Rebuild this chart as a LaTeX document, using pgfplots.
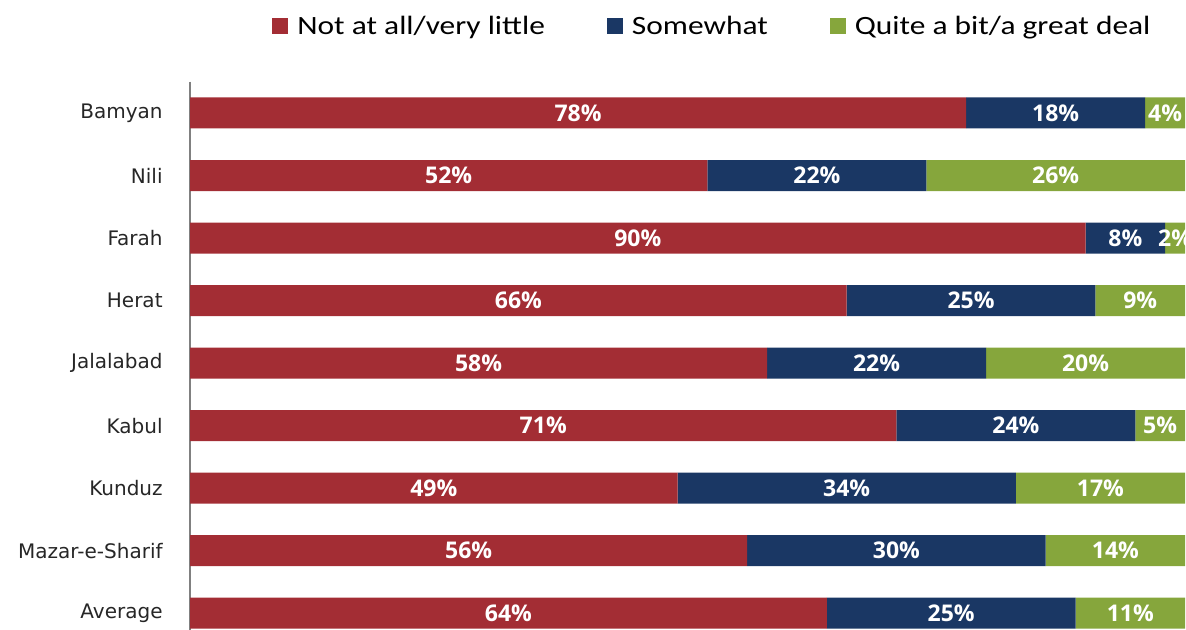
\documentclass[border=0pt]{standalone}
\usepackage{fontspec}
\usepackage{pgfplots}
\pgfplotsset{compat=1.18}
\setmainfont{DejaVu Sans}
\newfontfamily\legfont{Carlito}[FakeStretch=1.19]
\newfontfamily\barfont{Open Sans}
\definecolor{cred}{RGB}{163,45,52}
\definecolor{cnavy}{RGB}{26,55,100}
\definecolor{cgreen}{RGB}{134,166,60}
\begin{document}
\begin{tikzpicture}
\begin{axis}[
  at={(95pt,0pt)}, anchor=south west,
  scale only axis, width=497.5pt, height=274.125pt,
  xmin=0, xmax=100, ymin=-0.5, ymax=8.27, y dir=reverse,
  xbar stacked, bar width=15.5pt,
  hide x axis,
  axis y line*=left,
  y axis line style={-, draw=black!50, line width=0.8pt},
  ytick={0,...,8},
  yticklabels={Bamyan,Nili,Farah,Herat,Jalalabad,Kabul,Kunduz,Mazar-e-Sharif,Average},
  major tick length=0pt,
  yticklabel style={font=\fontsize{10}{12}\selectfont, text=black!85, inner xsep=0pt, xshift=-13.5pt},
  point meta=rawx,
  nodes near coords={\pgfmathprintnumber[assume math mode=true]{\pgfplotspointmeta}\%},
  every node near coord/.append style={anchor=center, text=white,
     font=\barfont\bfseries\fontsize{11.5}{13}\selectfont},
  legend columns=3,
  legend style={draw=none, fill=none, inner sep=0pt, at={(0.0824,1.1)}, anchor=west,
    font=\legfont\fontsize{13.2}{15}\selectfont,
    nodes={inner sep=0pt, anchor=base west},
    /tikz/every odd column/.append style={column sep=4.5pt},
    /tikz/every even column/.append style={column sep=31pt}},
  legend image code/.code={\fill[#1] (0pt,0.25pt) rectangle (8pt,8.25pt);},
]
\addplot[fill=cred, draw=none] coordinates {(78,0) (52,1) (90,2) (66,3) (58,4) (71,5) (49,6) (56,7) (64,8)};
\addplot[fill=cnavy, draw=none] coordinates {(18,0) (22,1) (8,2) (25,3) (22,4) (24,5) (34,6) (30,7) (25,8)};
\addplot[fill=cgreen, draw=none] coordinates {(4,0) (26,1) (2,2) (9,3) (20,4) (5,5) (17,6) (14,7) (11,8)};
\legend{Not at all/very little, Somewhat, Quite a bit/a great deal}
\end{axis}
\pgfresetboundingbox
\path (0pt,0pt) rectangle (593pt,315pt);
\end{tikzpicture}
\end{document}
